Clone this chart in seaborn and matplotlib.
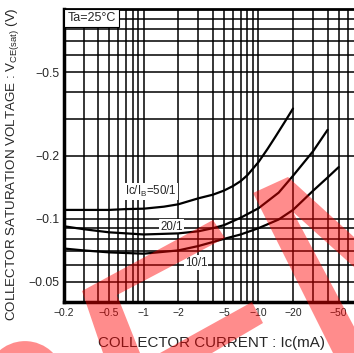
import matplotlib
matplotlib.use("Agg")
import matplotlib.pyplot as plt
import matplotlib.ticker as mticker
from matplotlib.patches import Polygon, Circle
import pandas as pd
import seaborn as sns

# |Ic| (mA) vs |Vce(sat)| (V)
ic_50 = [0.2, 0.3, 0.5, 0.7, 1, 1.5, 2, 3, 4, 5, 6, 7, 8, 10, 12, 14, 17, 20]
v_50 = [0.110, 0.110, 0.110, 0.111, 0.1115, 0.114, 0.117, 0.125, 0.130, 0.136,
        0.143, 0.151, 0.161, 0.186, 0.215, 0.245, 0.29, 0.335]

ic_20 = [0.2, 0.3, 0.5, 1, 2, 3, 4, 5, 7, 10, 15, 20, 30, 40]
v_20 = [0.092, 0.089, 0.086, 0.084, 0.085, 0.087, 0.090, 0.093, 0.101, 0.112,
        0.133, 0.160, 0.210, 0.265]

ic_10 = [0.2, 0.3, 0.5, 1, 2, 3, 5, 7, 10, 15, 20, 30, 40, 50]
v_10 = [0.072, 0.0705, 0.069, 0.068, 0.0705, 0.074, 0.080, 0.084, 0.090, 0.099,
        0.110, 0.136, 0.157, 0.176]

x_ticks = [0.2, 0.5, 1, 2, 5, 10, 20, 50]
x_tick_labels = ['\u22120.2', '\u22120.5', '\u22121', '\u22122', '\u22125', '\u221210', '\u221220', '\u221250']
y_ticks = [0.05, 0.1, 0.2, 0.5]
y_tick_labels = ['\u22120.05', '\u22120.1', '\u22120.2', '\u22120.5']

sns.set_style("white")
plt.rcParams['font.family'] = ['Liberation Sans', 'DejaVu Sans']
plt.rcParams['mathtext.fontset'] = 'custom'
plt.rcParams['mathtext.rm'] = 'Liberation Sans'
plt.rcParams['mathtext.it'] = 'Liberation Sans:italic'

df = pd.concat([
    pd.DataFrame({'ic': ic_50, 'vce': v_50, 'ratio': '50/1'}),
    pd.DataFrame({'ic': ic_20, 'vce': v_20, 'ratio': '20/1'}),
    pd.DataFrame({'ic': ic_10, 'vce': v_10, 'ratio': '10/1'}),
])

W, H = 354, 353
fig = plt.figure(figsize=(W / 100, H / 100), dpi=100)
ax = fig.add_axes([63.5 / W, 51 / H, 290.5 / W, 293 / H])

for r in ['50/1', '20/1', '10/1']:
    sns.lineplot(data=df[df['ratio'] == r], x='ic', y='vce', color='black',
                 lw=1.6, ax=ax, sort=False, zorder=4)

ax.set_xscale('log')
ax.set_yscale('log')
ax.set_xlim(0.2, 68)
ax.set_ylim(0.04, 1.0)

ax.xaxis.set_major_locator(mticker.FixedLocator(x_ticks))
ax.xaxis.set_major_formatter(mticker.FixedFormatter(x_tick_labels))
ax.yaxis.set_major_locator(mticker.FixedLocator(y_ticks))
ax.yaxis.set_major_formatter(mticker.FixedFormatter(y_tick_labels))
ax.xaxis.set_minor_locator(mticker.LogLocator(subs=range(1, 10), numticks=20))
ax.yaxis.set_minor_locator(mticker.LogLocator(subs=range(1, 10), numticks=20))
ax.xaxis.set_minor_formatter(mticker.NullFormatter())
ax.yaxis.set_minor_formatter(mticker.NullFormatter())
ax.grid(True, which='both', color='black', lw=1.1)
ax.tick_params(axis='x', which='major', length=0, pad=4, labelsize=7.5)
ax.tick_params(axis='y', which='major', length=2, width=1, pad=1, labelsize=8.7)
ax.tick_params(which='minor', length=0)
ax.set_xlabel('')
ax.set_ylabel('')

ax.spines['left'].set_linewidth(2.5)
ax.spines['bottom'].set_linewidth(2.5)
ax.spines['top'].set_linewidth(2)
ax.spines['right'].set_visible(False)
for s in ax.spines.values():
    s.set_color('black')
    s.set_zorder(5)

ax.text(0.0964, 0.969, 'Ta=25\u00b0C', transform=ax.transAxes, fontsize=9,
        ha='center', va='center', zorder=6,
        bbox=dict(boxstyle='square,pad=0.25', fc='white', ec='black', lw=0.8))

lab = dict(fontsize=8.3, ha='center', va='center', zorder=3,
           bbox=dict(boxstyle='square,pad=0.1', fc='white', ec='none'))
ax.text(1.15, 0.1345, r'Ic/I$_\mathrm{B}$=50/1', **lab)
ax.text(1.76, 0.0916, '20/1', **lab)
ax.text(2.86, 0.0617, '10/1', **lab)

fig.text(211.5 / W, 1 - 347 / H, 'COLLECTOR CURRENT : Ic(mA)', fontsize=10.9,
         ha='center', va='baseline')
fig.text(15 / W, 1 - 164 / H,
         r'COLLECTOR SATURATION VOLTAGE : V$_\mathrm{CE(sat)}$ (V)',
         fontsize=9.6, rotation=90, rotation_mode='anchor',
         ha='center', va='baseline')

# red watermark fragments over the chart (pixel outlines)
wm_shapes = [
    [(82, 291), (213, 220), (225, 238), (117, 295), (140, 353), (103, 353)],
    [(252, 302), (263, 323), (212, 353), (160, 353)],
    [(253, 193), (288, 177), (354, 237), (354, 267), (293, 212), (368, 353), (333, 353)],
]
for shp in wm_shapes:
    pts = [(x / W, 1 - y / H) for x, y in shp]
    fig.add_artist(Polygon(pts, closed=True, transform=fig.transFigure,
                           fc='red', ec='none', alpha=0.45, zorder=20))
fig.add_artist(Circle((25 / W, 1 - 380 / H), 39 / W, transform=fig.transFigure,
                      fc='red', ec='none', alpha=0.45, zorder=20))

fig.savefig('out.png', dpi=100)
